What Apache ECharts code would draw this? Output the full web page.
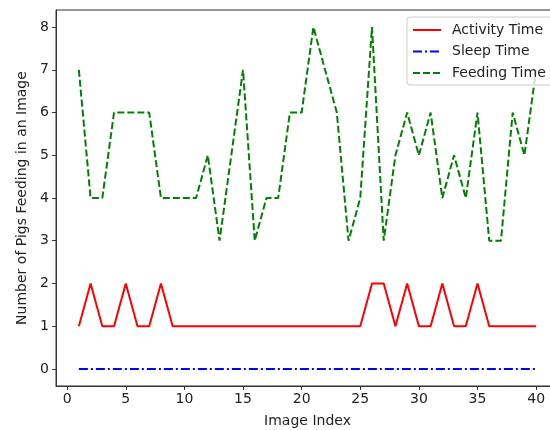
<!DOCTYPE html>
<html>
<head>
<meta charset="utf-8">
<script src="https://cdn.jsdelivr.net/npm/echarts@6/dist/echarts.min.js"></script>
<style>
  html, body { margin: 0; padding: 0; background: #fff; }
  #chart { width: 550px; height: 430px; }
</style>
</head>
<body>
<div id="chart"></div>
<script type="text/javascript">
	// image index 1..40
	var imageIndex = [1,2,3,4,5,6,7,8,9,10,11,12,13,14,15,16,17,18,19,20,
		21,22,23,24,25,26,27,28,29,30,31,32,33,34,35,36,37,38,39,40];
	var activityTime = [1,2,1,1,2,1,1,2,1,1,1,1,1,1,1,1,1,1,1,1,
		1,1,1,1,1,2,2,1,2,1,1,2,1,1,2,1,1,1,1,1];
	var sleepTime = [0,0,0,0,0,0,0,0,0,0,0,0,0,0,0,0,0,0,0,0,
		0,0,0,0,0,0,0,0,0,0,0,0,0,0,0,0,0,0,0,0];
	var feedingTime = [7,4,4,6,6,6,6,4,4,4,4,5,3,5,7,3,4,4,6,6,
		8,7,6,3,4,8,3,5,6,5,6,4,5,4,6,3,3,6,5,7];
	var xTicks = [0,5,10,15,20,25,30,35,40];
	var yTicks = [0,1,2,3,4,5,6,7,8];

	function pairs(ys){
		var out = [];
		for (var i = 0; i < imageIndex.length; i++) {
			out.push([imageIndex[i], ys[i]]);
		}
		return out;
	}

	var font = "'DejaVu Sans', sans-serif";
	var axisColor = '#333';
	var myChart = echarts.init(document.getElementById('chart'));
	var option = {
		animation: false,
		grid: {
			left: 56, top: 10, width: 503, height: 376,
			outerBoundsMode: 'none',
			containLabel: false,
			show: true, borderColor: axisColor, borderWidth: 1,
			backgroundColor: 'transparent'
		},
		legend: {
			orient: 'vertical',
			left: 407, top: 17,
			itemWidth: 28, itemHeight: 14, itemGap: 7.5,
			padding: [6, 8, 5, 5],
			itemStyle: { opacity: 0 },
			backgroundColor: 'rgba(255,255,255,0.8)',
			borderColor: '#ccc', borderWidth: 1, borderRadius: 3,
			textStyle: { fontFamily: font, fontSize: 14, color: '#222', padding: [0, 0, 0, 6] },
			data: ['Activity Time', 'Sleep Time', 'Feeding Time']
		},
		xAxis: {
			type: 'value',
			min: -0.95, max: 41.95,
			name: 'Image Index',
			nameLocation: 'middle', nameGap: 28,
			nameTextStyle: { fontFamily: font, fontSize: 14, color: '#222' },
			axisLine: { show: true, onZero: false, lineStyle: { color: axisColor, width: 1 } },
			axisTick: { show: true, length: 4, customValues: xTicks, lineStyle: { color: axisColor } },
			axisLabel: { customValues: xTicks, margin: 6, fontFamily: font, fontSize: 14, color: '#222' },
			splitLine: { show: false }
		},
		yAxis: {
			type: 'value',
			min: -0.4, max: 8.4,
			name: 'Number of Pigs Feeding in an Image',
			nameLocation: 'middle', nameGap: 27,
			nameTextStyle: { fontFamily: font, fontSize: 14, color: '#222' },
			axisLine: { show: true, onZero: false, lineStyle: { color: axisColor, width: 1 } },
			axisTick: { show: true, length: 4, customValues: yTicks, lineStyle: { color: axisColor } },
			axisLabel: { customValues: yTicks, margin: 7, fontFamily: font, fontSize: 14, color: '#222' },
			splitLine: { show: false }
		},
		series: [
			{
				name: 'Activity Time', type: 'line', symbol: 'none',
				data: pairs(activityTime),
				lineStyle: { color: '#ff0000', width: 2 },
				itemStyle: { color: '#ff0000' }
			},
			{
				name: 'Sleep Time', type: 'line', symbol: 'none',
				data: pairs(sleepTime),
				lineStyle: { color: '#0000ff', width: 2, type: [9, 3, 2, 3] },
				itemStyle: { color: '#0000ff' }
			},
			{
				name: 'Feeding Time', type: 'line', symbol: 'none',
				data: pairs(feedingTime),
				lineStyle: { color: '#008000', width: 2, type: [7, 3] },
				itemStyle: { color: '#008000' }
			}
		]
	};
	myChart.setOption(option);
</script>
</body>
</html>
